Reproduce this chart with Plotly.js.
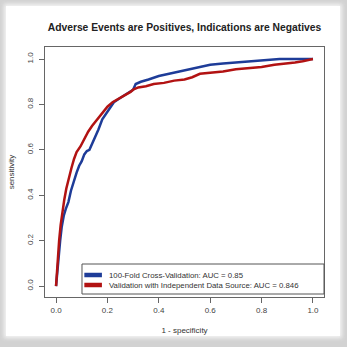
<!DOCTYPE html>
<html>
<head>
<meta charset="utf-8">
<script src="https://cdn.plot.ly/plotly-3.0.1.min.js"></script>
<style>
  html, body { margin: 0; padding: 0; width: 347px; height: 347px; overflow: hidden; background: #d2d2d2; }
  #frame { position: absolute; left: 6px; top: 6px; width: 334px; height: 330px; background: #fff; box-shadow: 0 0 4px 2px #f4f4f4; }
  #chart { position: absolute; left: 0; top: 0; width: 347px; height: 347px; }
</style>
</head>
<body>
<div id="frame"></div>
<div id="chart"></div>
<script>
// Series names
const seriesNames = [
  "100-Fold Cross-Validation: AUC = 0.85",
  "Validation with Independent Data Source: AUC = 0.846"
];
const seriesColors = ["#1e3c98", "#b21212"];

// 100-fold cross-validation ROC (1 - specificity, sensitivity)
const cvFpr = [0, 0.004, 0.01, 0.016, 0.022, 0.03, 0.038, 0.048, 0.058, 0.068, 0.08, 0.09, 0.1, 0.11, 0.12, 0.13, 0.14, 0.152, 0.165, 0.18, 0.195, 0.21, 0.225, 0.245, 0.265, 0.285, 0.3, 0.31, 0.33, 0.36, 0.4, 0.44, 0.48, 0.52, 0.56, 0.6, 0.65, 0.7, 0.76, 0.82, 0.87, 0.92, 1.0];
const cvTpr = [0, 0.06, 0.13, 0.2, 0.26, 0.31, 0.34, 0.37, 0.42, 0.46, 0.5, 0.53, 0.55, 0.58, 0.595, 0.6, 0.625, 0.655, 0.69, 0.735, 0.76, 0.785, 0.81, 0.825, 0.84, 0.855, 0.865, 0.89, 0.9, 0.91, 0.925, 0.935, 0.945, 0.955, 0.965, 0.975, 0.98, 0.985, 0.99, 0.995, 1.0, 1.0, 1.0];

// Independent data source validation ROC
const indFpr = [0, 0.003, 0.008, 0.012, 0.018, 0.025, 0.032, 0.04, 0.05, 0.06, 0.07, 0.08, 0.095, 0.11, 0.125, 0.14, 0.16, 0.18, 0.2, 0.22, 0.245, 0.27, 0.29, 0.3, 0.32, 0.35, 0.38, 0.42, 0.46, 0.5, 0.53, 0.56, 0.6, 0.65, 0.7, 0.75, 0.8, 0.85, 0.9, 0.93, 0.96, 1.0];
const indTpr = [0, 0.06, 0.14, 0.2, 0.27, 0.33, 0.38, 0.43, 0.48, 0.52, 0.56, 0.59, 0.615, 0.65, 0.68, 0.705, 0.735, 0.76, 0.79, 0.81, 0.825, 0.84, 0.855, 0.865, 0.875, 0.88, 0.89, 0.895, 0.905, 0.91, 0.92, 0.935, 0.94, 0.945, 0.955, 0.96, 0.965, 0.975, 0.98, 0.985, 0.99, 1.0];

const tickVals = [0, 0.2, 0.4, 0.6, 0.8, 1.0];
const tickText = ["0.0", "0.2", "0.4", "0.6", "0.8", "1.0"];

const titleText = "Adverse Events are Positives, Indications are Negatives";
const xTitle = "1 - specificity";
const yTitle = "sensitivity";

const FONT = "Liberation Sans, Arial, Helvetica, sans-serif";

const traces = [
  { x: cvFpr, y: cvTpr, type: "scatter", mode: "lines", name: seriesNames[0],
    line: { color: seriesColors[0], width: 2.5 }, showlegend: false },
  { x: indFpr, y: indTpr, type: "scatter", mode: "lines", name: seriesNames[1],
    line: { color: seriesColors[1], width: 2.5 }, showlegend: false }
];

// Manual R-style legend in the bottom-right corner
const legX0 = 0.1326, legY0 = 0.012, legY1 = 0.132;
const rowY = [0.088, 0.048];
const shapes = [
  { type: "rect", xref: "paper", yref: "paper", x0: legX0, x1: 1, y0: legY0, y1: legY1,
    line: { color: "#555", width: 1 }, fillcolor: "rgba(255,255,255,1)", layer: "above" }
];
const annotations = [];
seriesNames.forEach((nm, i) => {
  shapes.push({ type: "line", xref: "paper", yref: "paper", x0: 0.141, x1: 0.204, y0: rowY[i], y1: rowY[i],
    line: { color: seriesColors[i], width: 4.5 }, layer: "above" });
  annotations.push({ xref: "paper", yref: "paper", x: 0.222, y: rowY[i], xanchor: "left", yanchor: "middle",
    text: nm, showarrow: false, font: { family: FONT, size: 7.8, color: "#333" } });
});

const layout = {
  width: 347, height: 347,
  margin: { l: 45, r: 23, t: 47, b: 50 },
  paper_bgcolor: "rgba(0,0,0,0)",
  plot_bgcolor: "rgba(0,0,0,0)",
  font: { family: FONT, size: 8, color: "#333" },
  title: { text: "<b>" + titleText + "</b>", x: 0.5, xref: "paper", y: 0.92, yref: "container",
    yanchor: "middle", font: { family: FONT, size: 10.3, color: "#222" } },
  xaxis: {
    range: [-0.043, 1.043], tickvals: tickVals, ticktext: tickText,
    showgrid: false, zeroline: false, showline: true, mirror: true, linecolor: "#666", linewidth: 1,
    ticks: "outside", ticklen: 5, tickcolor: "#666",
    tickfont: { family: FONT, size: 8, color: "#444" },
    title: { text: xTitle, font: { family: FONT, size: 8, color: "#333" }, standoff: 13 }
  },
  yaxis: {
    range: [-0.048, 1.053], tickvals: tickVals, ticktext: tickText, tickangle: -90,
    showgrid: false, zeroline: false, showline: true, mirror: true, linecolor: "#666", linewidth: 1,
    ticks: "outside", ticklen: 5, tickcolor: "#666", ticklabelstandoff: 3,
    tickfont: { family: FONT, size: 8, color: "#444" },
    title: { text: yTitle, font: { family: FONT, size: 8, color: "#333" }, standoff: 9 }
  },
  shapes: shapes,
  annotations: annotations
};

Plotly.newPlot("chart", traces, layout, { displayModeBar: false, staticPlot: true });
</script>
</body>
</html>
